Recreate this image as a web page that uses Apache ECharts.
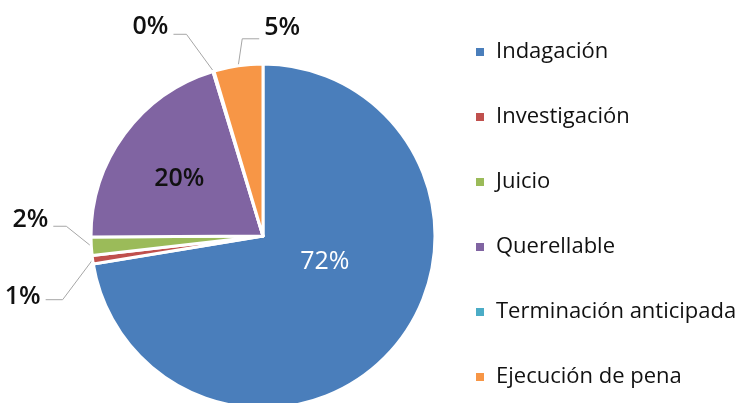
<!DOCTYPE html>
<html>
<head>
<meta charset="utf-8">
<script src="https://cdn.jsdelivr.net/npm/echarts@6/dist/echarts.min.js"></script>
<style>
  html, body { margin: 0; padding: 0; background: #fff; }
  #chart { width: 740px; height: 403px; }
</style>
</head>
<body>
<div id="chart"></div>
<script>
// data
const categories = ['Indagación', 'Investigación', 'Juicio', 'Querellable', 'Terminación anticipada', 'Ejecución de pena'];
const shares = [72.4, 0.8, 1.7, 20.4, 0.1, 4.6];
const colors = ['#4a7ebb', '#c0504d', '#9bbb59', '#8064a2', '#4bacc6', '#f79646'];

// label placement hints (offsets from the slice edge point)
const outsideHints = {
  1: { bend: [-30, 40], run: -17, side: 'left', lift: 3 },
  2: { bend: [-25, -20], run: -13, side: 'left', lift: 6 },
  4: { bend: [-27, -37], run: -13, side: 'left', lift: 7 },
  5: { bend: [4, -27], run: 17, side: 'right', lift: 11 }
};
const insideShift = { 0: [-6, -32], 3: [-12, -4] };

const chart = echarts.init(document.getElementById('chart'));

const data = categories.map((name, i) => {
  const inside = insideShift[i] != null;
  return {
    name: name,
    value: shares[i],
    itemStyle: { color: colors[i] },
    label: inside
      ? { position: 'inside', color: i === 0 ? '#fff' : '#111', fontWeight: i === 0 ? 'normal' : 600 }
      : { position: 'outside', color: '#111', fontWeight: 600 },
    labelLine: { show: !inside }
  };
});

chart.setOption({
  animation: false,
  legend: {
    orient: 'vertical',
    left: 469,
    top: 34,
    icon: 'rect',
    itemWidth: 10,
    itemHeight: 10,
    itemGap: 39,
    selectedMode: false,
    textStyle: { fontFamily: 'Open Sans', fontSize: 22, color: '#111', lineHeight: 26, padding: [0, 0, 0, 6] },
    data: categories
  },
  series: [{
    type: 'pie',
    center: [263, 236],
    radius: 172,
    startAngle: 90,
    clockwise: true,
    percentPrecision: 0,
    avoidLabelOverlap: false,
    itemStyle: { borderColor: '#fff', borderWidth: 3 },
    label: {
      formatter: '{d}%',
      fontFamily: 'Open Sans',
      fontSize: 25
    },
    labelLine: {
      length: 20,
      length2: 15,
      lineStyle: { color: '#a6a6a6', width: 1 }
    },
    labelLayout: function (params) {
      const i = params.dataIndex;
      if (insideShift[i]) {
        return { dx: insideShift[i][0], dy: insideShift[i][1] };
      }
      const h = outsideHints[i];
      if (!h || !params.labelLinePoints) return {};
      const p0 = params.labelLinePoints[0];
      const p1 = [p0[0] + h.bend[0], p0[1] + h.bend[1]];
      const p2 = [p1[0] + h.run, p1[1]];
      const w = params.labelRect.width;
      const lh = params.labelRect.height;
      const x = h.side === 'left' ? p2[0] - 5 - w : p2[0] + 5;
      const y = p2[1] - h.lift - lh / 2;
      return {
        x: x,
        y: y,
        align: 'left',
        verticalAlign: 'top',
        labelLinePoints: [p0, p1, p2]
      };
    },
    data: data
  }]
});
</script>
</body>
</html>
